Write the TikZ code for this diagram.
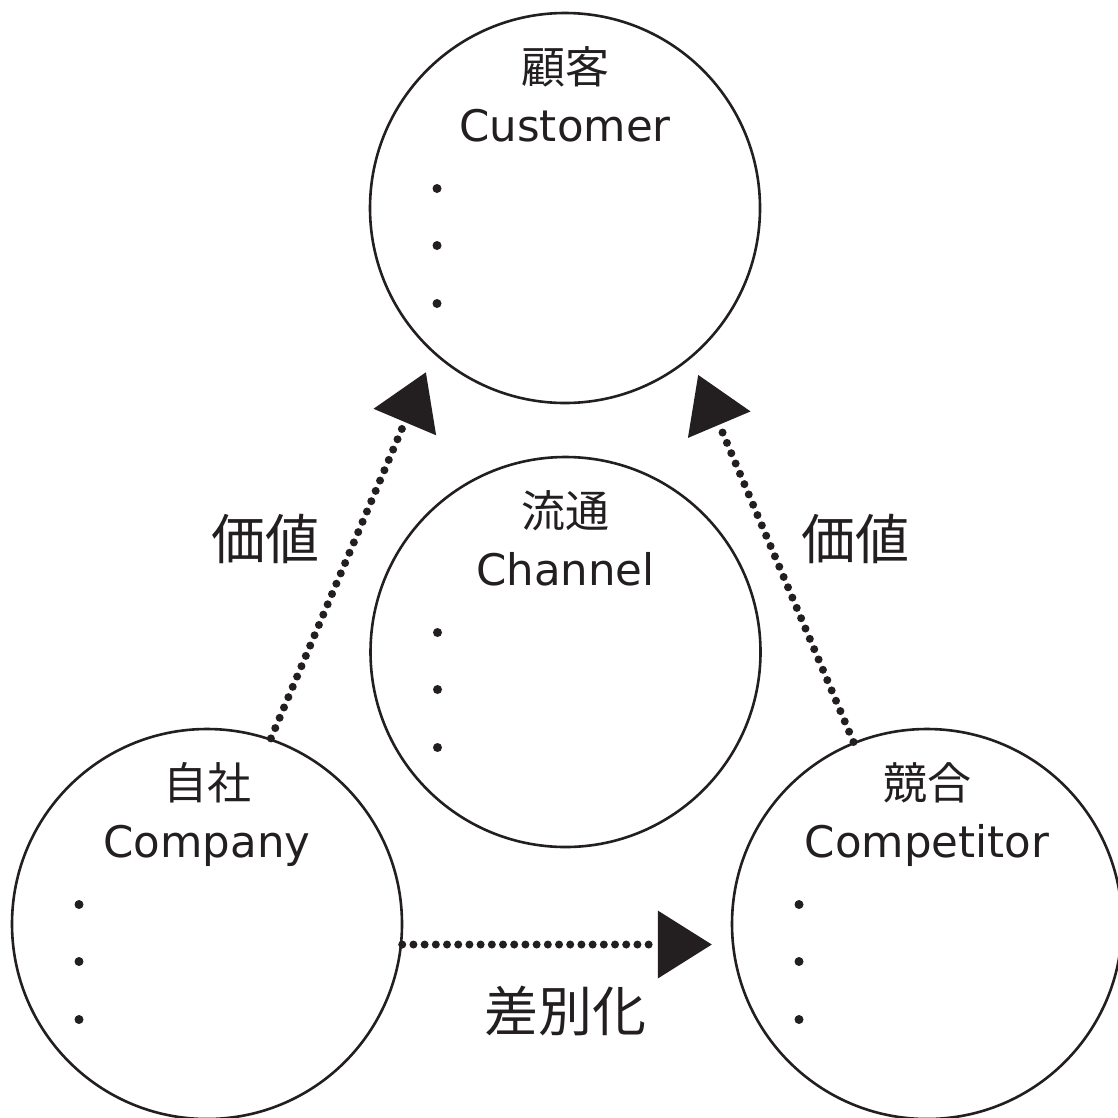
\documentclass[tikz,border=0pt]{standalone}
\usepackage{fontspec}
\setmainfont{DejaVu Sans}
\newfontfamily\jpfont{Noto Sans CJK JP}
\usetikzlibrary{arrows.meta,calc}
\definecolor{ink}{HTML}{231F20}
\begin{document}
\begin{tikzpicture}[x=1pt,y=-1pt,
  bigcircle/.style={circle,draw=ink,line width=2.6pt,minimum size=390pt,inner sep=0pt},
  latin/.style={anchor=base,text=ink,font=\fontsize{43.5}{50}\selectfont,inner sep=0pt},
  jptitle/.style={anchor=base,text=ink,font=\jpfont\fontsize{44}{50}\selectfont,inner sep=0pt},
  jplabel/.style={anchor=base,text=ink,font=\jpfont\fontsize{54}{60}\selectfont,inner sep=0pt},
  bulletdot/.style={circle,fill=ink,minimum size=9pt,inner sep=0pt},
  dotline/.style={draw=ink,line width=8pt,line cap=round,dash pattern=on 0pt off 11.2pt,
    -{Triangle[length=54pt,width=68pt,line width=0pt]}}
]
\useasboundingbox (0,0) rectangle (1118,1117);

% circles
\node[bigcircle] (customer) at (565,208) {};
\node[bigcircle] (channel) at (565.5,652) {};
\node[bigcircle] (company) at (207,924) {};
\node[bigcircle] (competitor) at (927,924) {};

% titles
\node[jptitle] (customerjp) at ($(customer)+(0,-125)$) {顧客};
\node[latin] (customeren) at ($(customer)+(0,-67)$) {Customer};
\node[jptitle] (channeljp) at ($(channel)+(0,-125)$) {流通};
\node[latin] (channelen) at ($(channel)+(0,-67)$) {Channel};
\node[jptitle] (companyjp) at ($(company)+(0,-125)$) {自社};
\node[latin] (companyen) at ($(company)+(0,-67)$) {Company};
\node[jptitle] (competitorjp) at ($(competitor)+(0,-125)$) {競合};
\node[latin] (competitoren) at ($(competitor)+(0,-67)$) {Competitor};

% bullets
\foreach \c in {customer,channel,company,competitor}{
  \node[bulletdot] (\c b1) at ($(\c)+(-128,-19.5)$) {};
  \node[bulletdot] (\c b2) at ($(\c)+(-128,37.5)$) {};
  \node[bulletdot] (\c b3) at ($(\c)+(-128,95.5)$) {};
}

% connectors
\draw[dotline,shorten >=20pt] (company.71) -- (customer.228);
\draw[dotline,shorten >=18pt] (competitor.112) -- (customer.310);
\draw[dotline,shorten >=20pt] (company.-6) -- (competitor.186);

% labels
\node[jplabel] (valueleft) at (265,559.5) {価値};
\node[jplabel] (valueright) at (855,559.5) {価値};
\node[jplabel] (differentiation) at (565.5,1031) {差別化};
\end{tikzpicture}
\end{document}
